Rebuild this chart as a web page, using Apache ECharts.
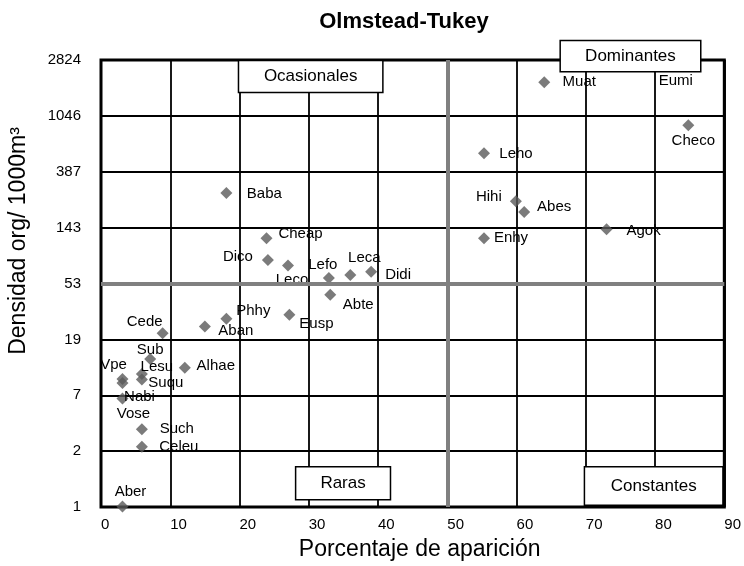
<!DOCTYPE html>
<html>
<head>
<meta charset="utf-8">
<script src="https://cdn.jsdelivr.net/npm/echarts@6/dist/echarts.min.js"></script>
<style>
  html, body { margin: 0; padding: 0; background: #fff; }
  #chart { width: 744px; height: 566px; }
</style>
</head>
<body>
<div id="chart"></div>
<script>
// especies
const nombres = ['Muat', 'Eumi', 'Checo', 'Leho', 'Hihi', 'Abes', 'Agok', 'Enhy', 'Baba', 'Cheap',
  'Dico', 'Leco', 'Lefo', 'Leca', 'Didi', 'Abte', 'Eusp', 'Phhy', 'Aban', 'Cede',
  'Sub', 'Lesu', 'Suqu', 'Alhae', 'Vpe', 'Nabi', 'Vose', 'Such', 'Celeu', 'Aber']

// porcentaje de aparicion (eje x)
const aparicion = [64.0, 83.0, 84.8, 55.3, 59.9, 61.1, 73.0, 55.3, 18.1, 23.9,
  24.1, 27.0, 32.9, 36.0, 39.0, 33.1, 27.2, 18.1, 15.0, 8.9,
  7.1, 5.9, 5.9, 12.1, 3.1, 3.1, 3.1, 5.9, 5.9, 3.1]

// densidad: posicion en la escala (0 = 1 org, 8 = 2824 org)
const nivelDensidad = [7.60, 7.63, 6.83, 6.33, 5.47, 5.28, 4.97, 4.81, 5.62, 4.81,
  4.42, 4.32, 4.10, 4.15, 4.21, 3.80, 3.44, 3.37, 3.23, 3.11,
  2.65, 2.38, 2.28, 2.49, 2.29, 2.22, 1.94, 1.39, 1.08, 0.01]

const ticksDensidad = ['1', '2', '7', '19', '53', '143', '387', '1046', '2824']

// limites de los cuadrantes
const umbralAparicion = 50
const umbralDensidad = 4

const sinMarcador = ['Eumi']

// desplazamiento de cada etiqueta respecto a su marcador (px)
const offsetEtiqueta = {
  Muat: [35, 0], Eumi: [0, 0], Checo: [5, 15], Leho: [32, 1], Hihi: [-27, -5],
  Abes: [30, -5], Agok: [37, 2], Enhy: [27, 0], Baba: [38, 1], Cheap: [34, -4],
  Dico: [-30, -3], Leco: [4, 14], Lefo: [-6, -13], Leca: [14, -17], Didi: [27, 3],
  Abte: [28, 10], Eusp: [27, 9], Phhy: [27, -8], Aban: [31, 4], Cede: [-18, -11],
  Sub: [0, -9], Lesu: [15, -7], Suqu: [24, 3], Alhae: [31, -2], Vpe: [-9, -14],
  Nabi: [17, 14], Vose: [11, 15], Such: [35, 0], Celeu: [37, 0], Aber: [8, -15]
}

// cajas de los cuadrantes (en unidades de los ejes)
const cajas = [
  { texto: 'Ocasionales', x: [19.85, 40.7], y: [7.42, 7.99] },
  { texto: 'Dominantes', x: [66.3, 86.6], y: [7.79, 8.35] },
  { texto: 'Raras', x: [28.1, 41.8], y: [0.13, 0.72] },
  { texto: 'Constantes', x: [69.8, 89.8], y: [0.03, 0.72] }
]

const FONT = 'Liberation Sans, Arial, Helvetica, sans-serif'

const chart = echarts.init(document.getElementById('chart'))

chart.setOption({
  animation: false,
  title: {
    text: 'Olmstead-Tukey',
    left: 399,
    top: 6,
    textAlign: 'center',
    textStyle: { fontFamily: FONT, fontWeight: 'bold', fontSize: 22, color: '#000' }
  },
  grid: {
    left: 101, right: 17, top: 60, bottom: 59,
    show: true, borderColor: '#000', borderWidth: 3, backgroundColor: '#fff'
  },
  xAxis: {
    type: 'value',
    min: 0, max: 90, interval: 10,
    name: 'Porcentaje de aparición',
    nameLocation: 'middle',
    nameGap: 31,
    nameTextStyle: { fontFamily: FONT, fontSize: 23, color: '#000', padding: [0, 0, 0, 14] },
    axisLine: { show: false },
    axisTick: { show: false },
    axisLabel: { align: 'left', margin: 10, fontFamily: FONT, fontSize: 15, color: '#000' },
    splitLine: { lineStyle: { color: '#000', width: 1.8 } }
  },
  yAxis: {
    type: 'value',
    min: 0, max: 8, interval: 1,
    axisLine: { show: false },
    axisTick: { show: false },
    axisLabel: {
      margin: 20, fontFamily: FONT, fontSize: 15, color: '#000',
      formatter: v => ticksDensidad[v]
    },
    splitLine: { lineStyle: { color: '#000', width: 1.8 } }
  },
  series: [{
    type: 'scatter',
    symbol: 'diamond',
    symbolSize: 12,
    clip: false,
    itemStyle: { color: '#5a5a5a' },
    label: {
      show: true,
      position: 'inside',
      formatter: '{b}',
      fontFamily: FONT,
      fontSize: 15,
      color: '#000',
      opacity: 1,
      textBorderWidth: 0,
      textBorderColor: 'transparent'
    },
    data: nombres.map((n, i) => ({
      name: n,
      value: [aparicion[i], nivelDensidad[i]],
      symbolSize: sinMarcador.includes(n) ? 0 : 12,
      label: { offset: offsetEtiqueta[n] }
    })),
    markLine: {
      silent: true,
      symbol: ['none', 'none'],
      label: { show: false },
      lineStyle: { color: '#808080', width: 4, type: 'solid' },
      data: [{ xAxis: umbralAparicion }, { yAxis: umbralDensidad }]
    }
  }]
})

// nombre del eje y y cajas de cada cuadrante
const graficos = [{
  type: 'text',
  x: 19, y: 241,
  rotation: Math.PI / 2,
  style: {
    text: 'Densidad org/ 1000m³',
    font: '23px ' + FONT,
    fill: '#000',
    align: 'center',
    verticalAlign: 'middle'
  }
}]
cajas.forEach(c => {
  const p1 = chart.convertToPixel({ gridIndex: 0 }, [c.x[0], c.y[1]])
  const p2 = chart.convertToPixel({ gridIndex: 0 }, [c.x[1], c.y[0]])
  graficos.push({
    type: 'rect',
    z: 10,
    shape: { x: p1[0], y: p1[1], width: p2[0] - p1[0], height: p2[1] - p1[1] },
    style: { fill: '#fff', stroke: '#000', lineWidth: 1.5 }
  })
  graficos.push({
    type: 'text',
    z: 11,
    x: (p1[0] + p2[0]) / 2,
    y: (p1[1] + p2[1]) / 2,
    style: { text: c.texto, font: '17px ' + FONT, fill: '#000', align: 'center', verticalAlign: 'middle' }
  })
})
chart.setOption({ graphic: graficos })
</script>
</body>
</html>
